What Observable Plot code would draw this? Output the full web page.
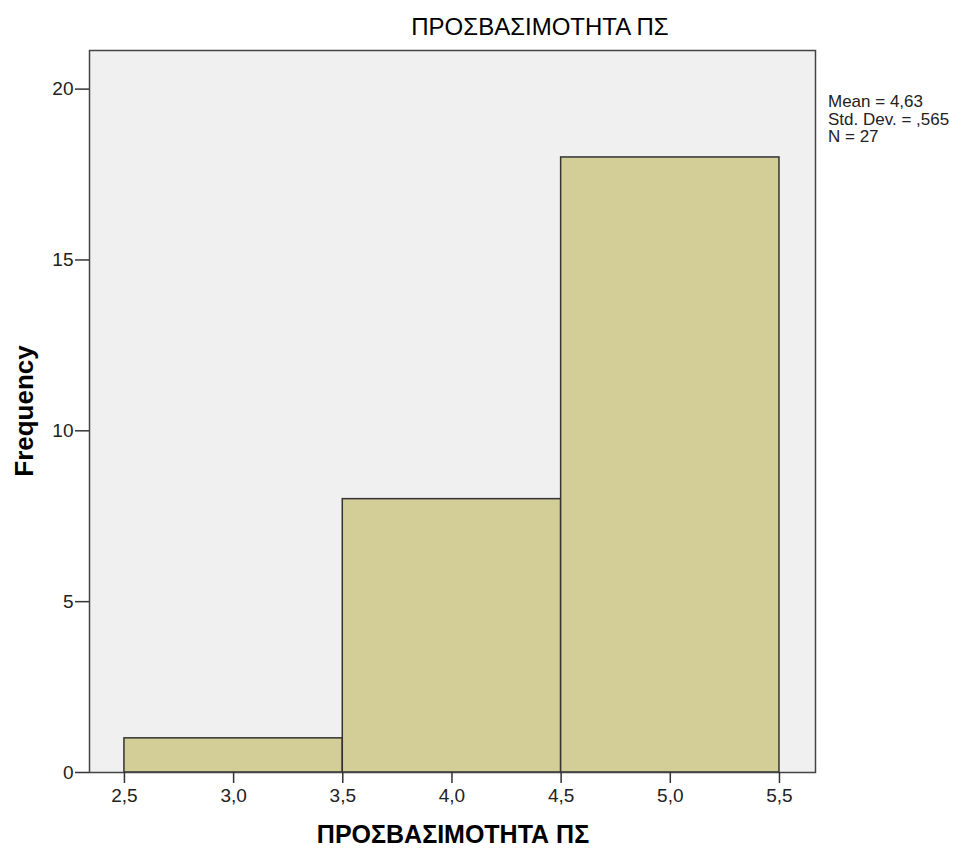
<!DOCTYPE html>
<html>
<head>
<meta charset="utf-8">
<script src="https://cdn.jsdelivr.net/npm/d3@7"></script>
<script src="https://cdn.jsdelivr.net/npm/@observablehq/plot@0.6"></script>
<style>
  html, body { margin: 0; padding: 0; background: #ffffff; }
  #chart svg { display: block; }
</style>
</head>
<body>
<div id="chart"></div>
<script>
// ---- data ----
const binStart = [2.5, 3.5, 4.5];
const binEnd = [3.5, 4.5, 5.5];
const counts = [1, 8, 18];
const xTicks = [2.5, 3.0, 3.5, 4.0, 4.5, 5.0, 5.5];
const yTicks = [0, 5, 10, 15, 20];
const statsLines = ["Mean = 4,63", "Std. Dev. = ,565", "N = 27"];
const titleText = "ΠΡΟΣΒΑΣΙΜΟΤΗΤΑ ΠΣ";
const xLabelText = "ΠΡΟΣΒΑΣΙΜΟΤΗΤΑ ΠΣ";
const yLabelText = "Frequency";

const bins = binStart.map((s, i) => ({x1: s, x2: binEnd[i], count: counts[i]}));
const fmt = d => d.toFixed(1).replace(".", ",");

const W = 966, H = 848;
const mL = 89, mR = 151, mT = 50, mB = 76;

const svg = Plot.plot({
  width: W, height: H,
  marginLeft: mL, marginRight: mR, marginTop: mT, marginBottom: mB,
  style: {fontFamily: "'Liberation Sans', Arial, sans-serif", fontSize: "19px", color: "#222", background: "#ffffff"},
  x: {domain: [2.34, 5.665], label: null},
  y: {domain: [0, 21.13], label: null},
  marks: [
    Plot.frame({fill: "#f0f0f0", stroke: null}),
    Plot.rectY(bins, {x1: "x1", x2: "x2", y: "count", fill: "#d3ce97", stroke: "#333", strokeWidth: 1.5}),
    Plot.frame({stroke: "#444", strokeWidth: 1.5}),
    Plot.axisX({ticks: xTicks, tickFormat: fmt, tickSize: 11, tickPadding: 5, stroke: "#333", strokeWidth: 1.5, strokeOpacity: 1, label: null}),
    Plot.axisY({ticks: yTicks, tickSize: 14, tickPadding: 2, stroke: "#333", strokeWidth: 1.5, strokeOpacity: 1, label: null})
  ]
});

const s = d3.select(svg);
const ff = "'Liberation Sans', Arial, sans-serif";
s.append("text").attr("x", 540).attr("y", 35).attr("text-anchor", "middle")
  .attr("font-family", ff).attr("font-size", 24).attr("fill", "#000").text(titleText);
s.append("text").attr("x", 453).attr("y", 843).attr("text-anchor", "middle")
  .attr("font-family", ff).attr("font-size", 25).attr("font-weight", "bold").attr("fill", "#000").text(xLabelText);
s.append("text").attr("transform", "translate(33,411) rotate(-90)").attr("text-anchor", "middle")
  .attr("font-family", ff).attr("font-size", 26).attr("font-weight", "bold").attr("fill", "#000").text(yLabelText);
const st = s.append("text").attr("font-family", ff).attr("font-size", 17).attr("fill", "#222")
  .attr("text-anchor", "start");
statsLines.forEach((t, i) => {
  st.append("tspan").attr("x", 828).attr("y", 107 + i * 17.5).attr("text-anchor", "start").text(t);
});

document.getElementById("chart").appendChild(svg);
</script>
</body>
</html>
